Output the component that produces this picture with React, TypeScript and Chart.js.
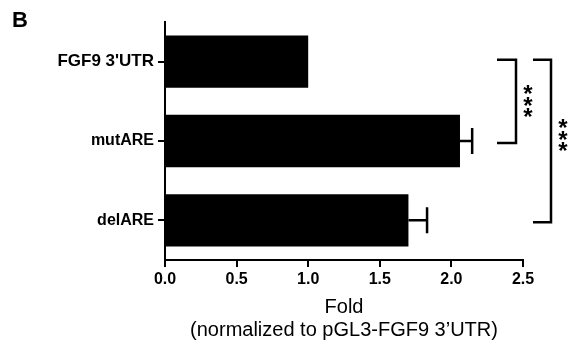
import React, { useEffect, useRef } from "react";
import { Chart, registerables } from "chart.js";

Chart.register(...registerables);

const categories = ["FGF9 3'UTR", "mutARE", "delARE"];
const foldValues = [1.0, 2.06, 1.7];
const foldErrors = [0, 0.085, 0.13];
const xTicks = [0, 0.5, 1.0, 1.5, 2.0, 2.5];
const brackets = [
  { from: 0, to: 1, label: "***" },
  { from: 0, to: 2, label: "***" },
];
const xTitleLines = ["Fold", "(normalized to pGL3-FGF9 3\u2019UTR)"];
const panelLabel = "B";

const FONT = "Arial, 'Liberation Sans', Helvetica, sans-serif";

const overlayPlugin = {
  id: "overlay",
  afterDatasetsDraw(chart: any) {
    const ctx = chart.ctx;
    const xs = chart.scales.x;
    const meta = chart.getDatasetMeta(0);
    ctx.save();
    ctx.strokeStyle = "#000";
    ctx.lineWidth = 2.5;
    foldErrors.forEach((e, i) => {
      if (!e) return;
      const bar = meta.data[i];
      const y = bar.y;
      const x0 = xs.getPixelForValue(foldValues[i]);
      const x1 = xs.getPixelForValue(foldValues[i] + e);
      ctx.beginPath();
      ctx.moveTo(x0, y);
      ctx.lineTo(x1, y);
      ctx.moveTo(x1, y - 13);
      ctx.lineTo(x1, y + 13);
      ctx.stroke();
    });
    ctx.restore();
  },
  afterDraw(chart: any) {
    const ctx = chart.ctx;
    const ys = chart.scales.y;
    const xs = chart.scales.x;
    ctx.save();
    ctx.strokeStyle = "#000";
    ctx.fillStyle = "#000";
    ctx.lineWidth = 2.5;
    const bx = [
      { x0: 497, x1: 516, starDy: 0 },
      { x0: 533, x1: 551, starDy: -6 },
    ];
    brackets.forEach((b, k) => {
      const yA = ys.getPixelForValue(b.from) - 2;
      const yB = ys.getPixelForValue(b.to) + 2;
      const { x0, x1, starDy } = bx[k];
      ctx.beginPath();
      ctx.moveTo(x0, yA);
      ctx.lineTo(x1, yA);
      ctx.lineTo(x1, yB);
      ctx.lineTo(x0, yB);
      ctx.stroke();
      ctx.font = `bold 24px ${FONT}`;
      ctx.textAlign = "center";
      ctx.textBaseline = "alphabetic";
      const chars = b.label.split("");
      const m = ctx.measureText("*");
      const gMid = (m.actualBoundingBoxAscent - m.actualBoundingBoxDescent) / 2;
      const step = 11.5;
      const cy = (yA + yB) / 2 + starDy;
      const sx = x1 + 12;
      chars.forEach((c, i) => {
        const y = cy + (i - (chars.length - 1) / 2) * step;
        ctx.fillText(c, sx, y + gMid);
      });
    });
    const cx = (xs.left + xs.right) / 2;
    ctx.textAlign = "center";
    ctx.textBaseline = "middle";
    ctx.font = `20px ${FONT}`;
    ctx.fillText(xTitleLines[0], cx, 307);
    ctx.fillText(xTitleLines[1], cx, 330);
    ctx.font = `bold 22px ${FONT}`;
    ctx.textAlign = "left";
    ctx.textBaseline = "alphabetic";
    ctx.fillText(panelLabel, 12, 27);
    ctx.restore();
  },
};

export default function App() {
  const ref = useRef<HTMLCanvasElement | null>(null);
  useEffect(() => {
    if (!ref.current) return;
    const chart = new Chart(ref.current, {
      type: "bar",
      data: {
        labels: categories,
        datasets: [
          {
            data: foldValues,
            backgroundColor: "#000",
            borderWidth: 0,
            categoryPercentage: 1,
            barPercentage: 0.66,
          },
        ],
      },
      options: {
        indexAxis: "y",
        animation: false,
        responsive: false,
        maintainAspectRatio: false,
        layout: { padding: { top: 22, right: 51, left: 0, bottom: 0 } },
        plugins: { legend: { display: false }, tooltip: { enabled: false } },
        scales: {
          x: {
            type: "linear",
            min: 0,
            max: 2.5,
            afterFit: (s: any) => {
              s.height = 80;
            },
            afterBuildTicks: (s: any) => {
              s.ticks = xTicks.map((v) => ({ value: v }));
            },
            ticks: {
              color: "#000",
              font: { family: FONT, size: 16, weight: "bold" },
              padding: 3,
              callback: (v: any) => Number(v).toFixed(1),
              maxRotation: 0,
            },
            grid: {
              drawOnChartArea: false,
              tickLength: 7,
              color: "#000",
              lineWidth: 2,
            },
            border: { color: "#000", width: 2 },
          },
          y: {
            afterFit: (s: any) => {
              s.width = 165;
            },
            ticks: {
              color: "#000",
              font: (c: any) => ({
                family: FONT,
                size: c.index === 0 ? 17 : 16,
                weight: "bold",
              }),
              padding: 4,
            },
            grid: {
              drawOnChartArea: false,
              offset: false,
              tickLength: 7,
              color: "#000",
              lineWidth: 2,
            },
            border: { color: "#000", width: 2 },
          },
        },
      },
      plugins: [overlayPlugin],
    });
    return () => chart.destroy();
  }, []);
  return (
    <div style={{ position: "fixed", left: 0, top: 0, width: 574, height: 340, background: "#fff" }}>
      <canvas ref={ref} width={574} height={340} style={{ width: 574, height: 340 }} />
    </div>
  );
}
